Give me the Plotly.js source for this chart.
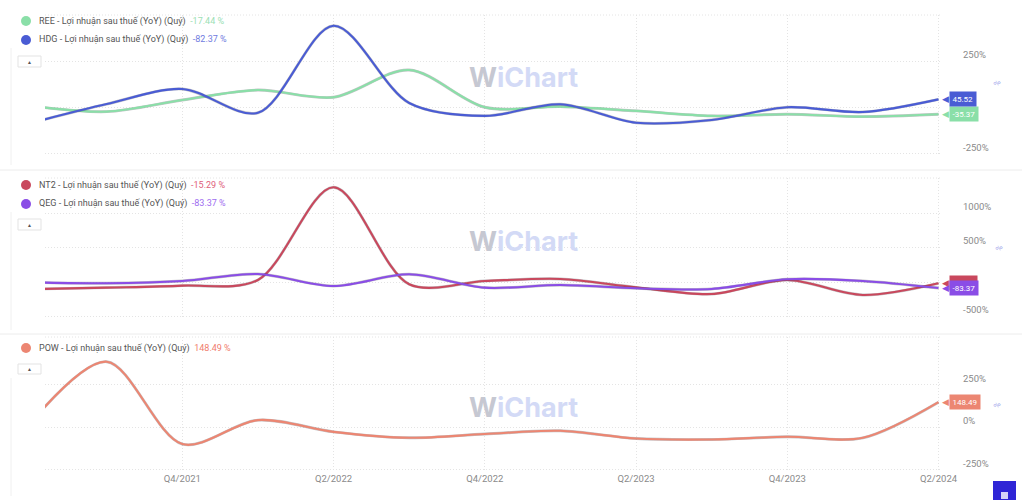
<!DOCTYPE html>
<html>
<head>
<meta charset="utf-8">
<script src="https://cdn.plot.ly/plotly-3.0.1.min.js"></script>
<style>html,body{margin:0;padding:0;background:#fff;}#chart{width:1022px;height:500px;}</style>
</head>
<body>
<div id="chart"></div>
<script>
// ---- data ----
const quarters = ['Q2/2021','Q3/2021','Q4/2021','Q1/2022','Q2/2022','Q3/2022','Q4/2022','Q1/2023','Q2/2023','Q3/2023','Q4/2023','Q1/2024','Q2/2024'];
const ree = [10, -21, 42, 96, 57, 205, 3, 6, -17, -44, -35, -48, -35.37];
const hdg = [-82, 20, 102, -27, 445, 26, -44, 19, -81, -66, 3, -23, 45.52];
const nt2 = [-100, -78, -49, 33, 1378, -29, 19, 48, -73, -170, 33, -184, -15.29];
const qeg = [0, -14, 19, 120, -54, 116, -78, -39, -87, -97, 44, 19, -83.37];
const pow = [30, 386, -98, 43, -26, -61, -39, -20, -65, -71, -55, -61, 148.49];
const seriesNames = ['REE','HDG','NT2','QEG','POW'];
const legendValues = [-17.44, -82.37, -15.29, -83.37, 148.49];
const metricLabel = 'Lợi nhuận sau thuế (YoY) (Quý)';
const yTicks1 = [-250, 0, 250];
const yTickText1 = ['-250%', '', '250%'];
const yTicks2 = [-500, 0, 500, 1000];
const yTickText2 = ['-500%', '', '500%', '1000%'];
const yTicks3 = [-250, 0, 250];
const yTickText3 = ['-250%', '0%', '250%'];

// ---- styling ----
const W = 1022, H = 500;
const px = x => x / W;
const py = y => 1 - y / H;
const colors = {REE:'#8adfa8', HDG:'#4a5cd4', NT2:'#c9485d', QEG:'#8a4de6', POW:'#ec8672'};
const valColors = {REE:'#9be0b4', HDG:'#6f7be0', NT2:'#e0607a', QEG:'#9e6cf0', POW:'#f07c6c'};
const FONT = 'Roboto, "Noto Sans", sans-serif';
const GRID = '#e4e4e4';
const idx = quarters.map((q, i) => i);
const tickIdx = idx.filter(i => i >= 2 && i % 2 === 0);

const series = [
  {name:'REE', data:ree, ax:1},
  {name:'HDG', data:hdg, ax:1},
  {name:'NT2', data:nt2, ax:2},
  {name:'QEG', data:qeg, ax:2},
  {name:'POW', data:pow, ax:3}
];

const traces = [];
series.forEach(s => {
  const xa = s.ax === 1 ? 'x' : 'x' + s.ax;
  const ya = s.ax === 1 ? 'y' : 'y' + s.ax;
  traces.push({x: idx, y: s.data, xaxis: xa, yaxis: ya, mode:'lines', type:'scatter',
    line:{shape:'spline', smoothing:0.9, width:2.9, color:'rgba(40,40,50,0.28)'}, hoverinfo:'skip', showlegend:false});
  traces.push({x: idx, y: s.data, xaxis: xa, yaxis: ya, mode:'lines', type:'scatter', name:s.name,
    line:{shape:'spline', smoothing:0.9, width:2.1, color:colors[s.name]}, showlegend:false});
});

const xRange = [0.184, 12.02];
const xBase = {range: xRange, showgrid:true, gridcolor:GRID, griddash:'1px,2px', gridwidth:1,
  tickvals: tickIdx, ticktext: tickIdx.map(i => quarters[i]), zeroline:false, showline:false,
  ticks:'', tickfont:{size:9.5, color:'#8a8a8a', family:FONT}, domain:[px(45), px(940)], fixedrange:true};
const yBase = {side:'right', showgrid:true, gridcolor:GRID, griddash:'1px,2px', gridwidth:1, zeroline:false,
  showline:false, ticks:'', ticklabelposition:'outside top', ticklabelstandoff:22,
  tickfont:{size:9.5, color:'#8a8a8a', family:FONT}, fixedrange:true};

const layout = {
  width: W, height: H, margin:{l:0, r:0, t:0, b:0}, paper_bgcolor:'#fff', plot_bgcolor:'#fff',
  font:{family:FONT}, showlegend:false, hovermode:false,
  xaxis: Object.assign({}, xBase, {anchor:'y', showticklabels:false}),
  xaxis2: Object.assign({}, xBase, {anchor:'y2', showticklabels:false, matches:'x'}),
  xaxis3: Object.assign({}, xBase, {anchor:'y3', showticklabels:true, matches:'x'}),
  yaxis: Object.assign({}, yBase, {anchor:'x', domain:[py(155), py(15)], range:[-256, 503], tickvals:yTicks1, ticktext:yTickText1}),
  yaxis2: Object.assign({}, yBase, {anchor:'x2', domain:[py(318.5), py(178)], range:[-525, 1512], tickvals:yTicks2, ticktext:yTickText2}),
  yaxis3: Object.assign({}, yBase, {anchor:'x3', domain:[py(471), py(337)], range:[-256, 531], tickvals:yTicks3, ticktext:yTickText3}),
  shapes: [], annotations: []
};

// top dotted lines for each panel
['y','y2','y3'].forEach((ya, k) => {
  const xa = k === 0 ? 'x' : 'x' + (k + 1);
  layout.shapes.push({type:'line', xref: xa + ' domain', yref: ya + ' domain', x0:0, x1:1, y0:1, y1:1,
    line:{color:GRID, width:1, dash:'1px,2px'}, layer:'below'});
});

// panel separators and left borders
[170, 334].forEach(y => layout.shapes.push({type:'line', xref:'paper', yref:'paper', x0:0, x1:1, y0:py(y), y1:py(y), line:{color:'#ececec', width:1}}));
[[48,165],[212,330],[378,496]].forEach(r => layout.shapes.push({type:'line', xref:'paper', yref:'paper', x0:px(11), x1:px(11), y0:py(r[0]), y1:py(r[1]), line:{color:'#f0f0f0', width:1}}));

// legends
const legendRows = [{n:'REE', y:21}, {n:'HDG', y:40}, {n:'NT2', y:185}, {n:'QEG', y:204}, {n:'POW', y:348}];
legendRows.forEach(r => {
  const v = legendValues[seriesNames.indexOf(r.n)];
  layout.shapes.push({type:'circle', xref:'paper', yref:'paper', x0:px(21), x1:px(31), y0:py(r.y + 5), y1:py(r.y - 5),
    fillcolor: colors[r.n], line:{width:0}});
  layout.annotations.push({xref:'paper', yref:'paper', x:px(37), y:py(r.y), xanchor:'left', yanchor:'middle', showarrow:false,
    text: r.n + ' - ' + metricLabel + '  <span style="color:' + valColors[r.n] + '">' + v.toFixed(2) + ' %</span>',
    font:{size:9, color:'#555', family:FONT}});
});

// collapse buttons
[[56,67],[219,230],[364,374]].forEach(b => {
  layout.shapes.push({type:'rect', xref:'paper', yref:'paper', x0:px(18), x1:px(41), y0:py(b[1]), y1:py(b[0]),
    line:{color:'#e3e3e3', width:1}, fillcolor:'#fff'});
  layout.annotations.push({xref:'paper', yref:'paper', x:px(29.5), y:py((b[0] + b[1]) / 2), showarrow:false,
    text:'▲', font:{size:5, color:'#555'}, xanchor:'center', yanchor:'middle'});
});

// watermarks
[77, 241, 407].forEach(y => layout.annotations.push({xref:'paper', yref:'paper', x:px(523), y:py(y), showarrow:false,
  xanchor:'center', yanchor:'middle',
  text:'<b><span style="color:#c6c8d2">W</span><span style="color:#d3daf6">iChart</span></b>',
  font:{size:27, family:'Inter, "Open Sans", sans-serif'}}));

// % axis titles
[[997,83],[999,248],[997,405]].forEach(p => layout.annotations.push({xref:'paper', yref:'paper', x:px(p[0]), y:py(p[1]),
  showarrow:false, text:'%', textangle:-60, font:{size:8, color:'#a0a4ea'}, xanchor:'center', yanchor:'middle'}));

// end-value tags
series.forEach(s => {
  const ya = s.ax === 1 ? 'y' : 'y' + s.ax;
  const last = s.data[s.data.length - 1];
  layout.annotations.push({xref:'paper', yref:ya, x:px(951), y:last, xanchor:'right', yanchor:'middle', showarrow:false,
    text:'◀', font:{size:9, color:colors[s.name]}});
  layout.annotations.push({xref:'paper', yref:ya, x:px(949), y:last, xanchor:'left', yanchor:'middle', showarrow:false,
    text: last.toFixed(2), bgcolor: colors[s.name], borderpad:2.5, font:{size:8, color:'#fff', family:FONT}});
});

// bottom-right button
layout.shapes.push({type:'rect', xref:'paper', yref:'paper', x0:px(993), x1:px(1016), y0:py(503), y1:py(481),
  fillcolor:'#2f25d6', line:{width:0}});
layout.shapes.push({type:'rect', xref:'paper', yref:'paper', x0:px(1001), x1:px(1008), y0:py(499), y1:py(492),
  fillcolor:'rgba(255,255,255,0.8)', line:{width:0}});

Plotly.newPlot('chart', traces, layout, {displayModeBar:false, staticPlot:true});
</script>
</body>
</html>
